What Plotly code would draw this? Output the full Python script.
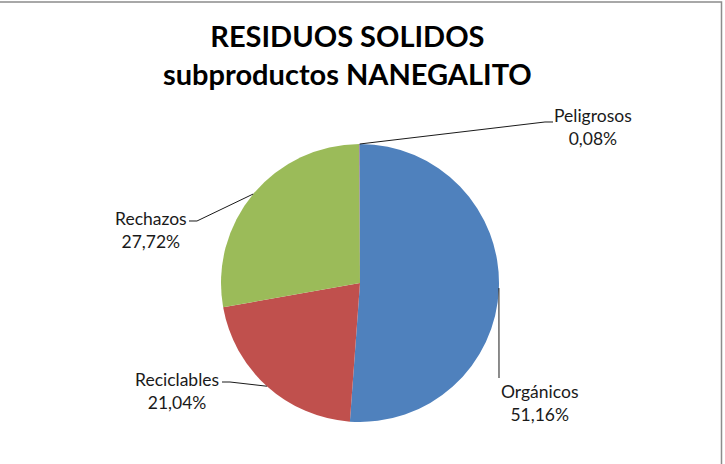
import math

import plotly.graph_objects as go

W, H = 725, 464

categories = ['Orgánicos', 'Reciclables', 'Rechazos', 'Peligrosos']
percentages = [51.16, 21.04, 27.72, 0.08]
colors = ['#4F81BD', '#C0504D', '#9BBB59', '#8064A2']

# pie placement in pixels
cx, cy, r = 360, 283, 139

# where each label sits (pixels) and where the leader line bends
label_pos = {
    'Orgánicos': (539, 403),
    'Reciclables': (177, 391),
    'Rechazos': (151, 230),
    'Peligrosos': (593, 127),
}
elbows = {
    'Orgánicos': [(499, 378)],
    'Reciclables': [(230, 382), (222, 382)],
    'Rechazos': [(197, 221), (189, 221)],
    'Peligrosos': [(545, 122), (553, 122)],
}


def px(x, y):
    return x / W, 1 - y / H


def edge_points(values):
    total = sum(values)
    points = []
    start = 0
    for v in values:
        mid = (start + v / 2) / total * 2 * math.pi
        points.append((cx + r * math.sin(mid), cy - r * math.cos(mid)))
        start += v
    return points


def main():
    x0, y1 = px(cx - r, cy - r)
    x1, y0 = px(cx + r, cy + r)

    fig = go.Figure(go.Pie(
        labels=categories,
        values=percentages,
        sort=False,
        direction='clockwise',
        rotation=0,
        textinfo='none',
        hoverinfo='label+percent',
        marker=dict(colors=colors, line=dict(width=0)),
        domain=dict(x=[x0, x1], y=[y0, y1]),
        showlegend=False,
    ))

    shapes = []
    annotations = []
    for name, pct, pt in zip(categories, percentages, edge_points(percentages)):
        path_pts = [pt] + elbows[name]
        path = ''
        for i, (x, y) in enumerate(path_pts):
            px_, py_ = px(x, y)
            path += ('M' if i == 0 else ' L') + f' {px_:.5f} {py_:.5f}'
        shapes.append(dict(type='path', xref='paper', yref='paper', path=path,
                           line=dict(color='#1a1a1a', width=1)))
        lx, ly = px(*label_pos[name])
        annotations.append(dict(
            x=lx, y=ly, xref='paper', yref='paper', showarrow=False,
            xanchor='center', yanchor='middle', align='center',
            text=f"{name}<br>{pct:.2f}%".replace('.', ','),
            font=dict(family='Lato, Open Sans, sans-serif', size=17.5, color='#1a1a1a')))

    tx, ty = px(347.5, 55)
    annotations.append(dict(
        x=tx, y=ty, xref='paper', yref='paper', showarrow=False,
        xanchor='center', yanchor='middle', align='center',
        text='<b>RESIDUOS SOLIDOS<br>subproductos NANEGALITO</b>',
        font=dict(family='Lato, Open Sans, sans-serif', size=29, color='black')))

    # chart border (only top and right edges visible in the frame)
    bx, by = px(721.5, 2)
    shapes.append(dict(type='rect', xref='paper', yref='paper',
                       x0=-0.05, y0=-0.05, x1=bx, y1=by,
                       line=dict(color='#8c8c8c', width=1.5)))

    fig.update_layout(
        width=W, height=H,
        margin=dict(l=0, r=0, t=0, b=0),
        paper_bgcolor='white',
        plot_bgcolor='white',
        shapes=shapes,
        annotations=annotations,
    )
    fig.write_html('out.html', config={'displayModeBar': False},
                   post_script="document.body.style.margin='0';"
                               "document.body.style.overflow='hidden';")


if __name__ == '__main__':
    main()
